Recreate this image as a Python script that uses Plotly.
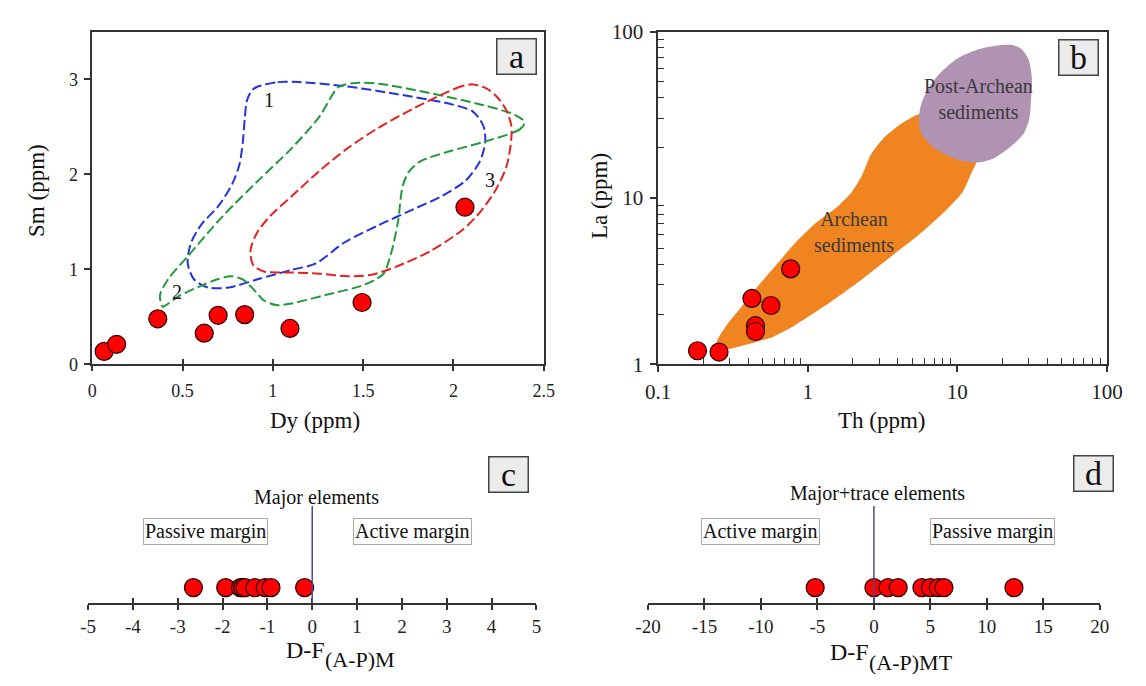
import plotly.graph_objects as go

# ---------------- data ----------------
# panel a: Dy vs Sm (ppm)
dy_ppm = [0.066, 0.135, 0.363, 0.62, 0.697, 0.844, 1.095, 1.494, 2.064]
sm_ppm = [0.135, 0.21, 0.478, 0.327, 0.515, 0.522, 0.377, 0.65, 1.653]

# panel a reference fields (dashed outlines)
field1_x = [0.911, 1.027, 1.143, 1.394, 1.683, 1.973, 2.108, 2.166, 2.176, 2.147, 2.069, 1.934,
            1.780, 1.587, 1.394, 1.239, 1.104, 0.911, 0.757, 0.641, 0.564, 0.529, 0.544, 0.602,
            0.699, 0.776, 0.815, 0.834, 0.844, 0.857, 0.882, 0.911]
field1_y = [2.919, 2.970, 2.970, 2.929, 2.845, 2.744, 2.660, 2.508, 2.340, 2.138, 1.936, 1.768,
            1.633, 1.465, 1.279, 1.061, 0.993, 0.892, 0.808, 0.808, 0.892, 1.061, 1.263, 1.465,
            1.667, 1.902, 2.104, 2.340, 2.576, 2.778, 2.879, 2.919]
field2_x = [2.394, 2.369, 2.166, 1.973, 1.819, 1.751, 1.718, 1.693, 1.654, 1.616, 1.568, 1.490,
            1.297, 1.104, 1.017, 0.950, 0.892, 0.834, 0.766, 0.689, 0.602, 0.486, 0.409, 0.390,
            0.375, 0.419, 0.525, 0.718, 0.911, 1.104, 1.259, 1.365, 1.471, 1.587, 1.876, 2.166,
            2.340, 2.394]
field2_y = [2.549, 2.475, 2.340, 2.239, 2.138, 2.020, 1.869, 1.498, 1.162, 0.960, 0.892, 0.825,
            0.731, 0.640, 0.623, 0.673, 0.791, 0.892, 0.926, 0.892, 0.825, 0.724, 0.623, 0.606,
            0.724, 0.892, 1.128, 1.549, 1.919, 2.273, 2.609, 2.919, 2.963, 2.953, 2.852, 2.727,
            2.626, 2.549]
field3_x = [2.108, 2.050, 1.934, 1.780, 1.587, 1.413, 1.259, 1.104, 0.988, 0.911, 0.876, 0.892,
            0.950, 1.104, 1.259, 1.413, 1.548, 1.683, 1.876, 2.050, 2.147, 2.234, 2.292, 2.317,
            2.321, 2.292, 2.243, 2.185, 2.108]
field3_y = [2.946, 2.929, 2.838, 2.694, 2.492, 2.273, 2.037, 1.768, 1.566, 1.380, 1.195, 1.044,
            0.976, 0.966, 0.953, 0.926, 0.943, 1.027, 1.195, 1.414, 1.599, 1.835, 2.071, 2.306,
            2.508, 2.677, 2.811, 2.902, 2.946]

# panel b: Th vs La (ppm)
th_ppm = [0.183, 0.255, 0.423, 0.567, 0.447, 0.447, 0.768]
la_ppm = [1.205, 1.184, 2.488, 2.256, 1.705, 1.574, 3.745]

archean_th = [0.2415, 0.248, 0.2848, 0.3549, 0.4676, 0.616, 0.811, 1.129, 1.570, 1.958, 2.31,
              2.652, 3.215, 4.236, 5.577, 8.2, 12.06, 13.46, 12.4, 10.8, 8.2, 5.577, 3.589, 2.31,
              1.331, 0.811, 0.583, 0.419, 0.2848, 0.248, 0.2415]
archean_la = [1.249, 1.396, 1.705, 2.177, 2.972, 3.968, 5.297, 7.07, 8.83, 10.79, 13.77,
              18.39, 22.96, 28.05, 32.06, 31.34, 21.97, 16.82, 14.08, 10.79, 8.26, 6.05, 4.434,
              3.249, 2.276, 1.705, 1.459, 1.335, 1.221, 1.21, 1.249]
post_th = [19.8, 14.22, 10.22, 7.76, 6.4, 5.733, 5.516, 5.733, 6.58, 8.2, 10.8, 13.84, 17.73,
           23.36, 27.86, 30.27, 31.1, 31.45, 29.93, 26.8, 23.36, 19.8]
post_la = [83.3, 79.0, 69.8, 57.1, 45.7, 36.6, 29.3, 24.55, 21.01, 18.39, 16.67, 16.38, 17.43,
           20.83, 24.55, 29.99, 39.15, 53.43, 68.2, 78.7, 83.3, 83.3]

# panel c / d: discriminant function scores
df_m = [-2.65, -1.93, -1.6, -1.55, -1.5, -1.28, -1.05, -0.92, -0.17]
df_mt = [-5.2, 0.0, 1.25, 2.15, 4.25, 5.0, 5.7, 6.2, 12.4]
strip_level = 0.0

a_ticks = [0, 0.5, 1, 1.5, 2, 2.5]
a_ticktext = ["0", "0.5", "1", "1.5", "2", "2.5"]
a_yticks = [0, 1, 2, 3]
b_ticks = [0.1, 1, 10, 100]
b_ticktext = ["0.1", "1", "10", "100"]
b_yticks = [1, 10, 100]
b_yticktext = ["1", "10", "100"]
b_minor_x = [0.2, 0.3, 0.4, 0.5, 0.6, 0.7, 0.8, 0.9, 2, 3, 4, 5, 6, 7, 8, 9,
             20, 30, 40, 50, 60, 70, 80, 90]
b_minor_y = [2, 3, 4, 5, 6, 7, 8, 9, 20, 30, 40, 50, 60, 70, 80, 90]
c_ticks = [-5, -4, -3, -2, -1, 0, 1, 2, 3, 4, 5]
c_ticktext = ["-5", "-4", "-3", "-2", "-1", "0", "1", "2", "3", "4", "5"]
d_ticks = [-20, -15, -10, -5, 0, 5, 10, 15, 20]
d_ticktext = ["-20", "-15", "-10", "-5", "0", "5", "10", "15", "20"]

# ---------------- style ----------------
W, H = 1146, 686
FONT = "Liberation Serif"
AX = "#333333"
RED = "#ff0000"
MK = dict(size=18, color=RED, line=dict(color="#2a0000", width=1.2))


def px(x):
    return x / W


def py(y):
    return 1 - y / H


fig = go.Figure()

# panel a
for fx, fy, col in [(field1_x, field1_y, "#2233dd"), (field2_x, field2_y, "#22993a"),
                    (field3_x, field3_y, "#e52222")]:
    fig.add_trace(go.Scatter(x=fx, y=fy, mode="lines", xaxis="x", yaxis="y",
                             line=dict(color=col, width=2, dash="10px,4px", shape="spline",
                                       smoothing=0.8),
                             hoverinfo="skip", showlegend=False))
fig.add_trace(go.Scatter(x=dy_ppm, y=sm_ppm, mode="markers", marker=MK, xaxis="x", yaxis="y",
                         showlegend=False, cliponaxis=False))

# panel b
fig.add_trace(go.Scatter(x=archean_th, y=archean_la, mode="lines", fill="toself",
                         fillcolor="#ef8420", line=dict(color="#ef8420", width=0, shape="spline",
                                                        smoothing=0.6),
                         xaxis="x2", yaxis="y2", hoverinfo="skip", showlegend=False))
fig.add_trace(go.Scatter(x=post_th, y=post_la, mode="lines", fill="toself",
                         fillcolor="#b092b3", line=dict(color="#b092b3", width=0, shape="spline",
                                                        smoothing=0.8),
                         xaxis="x2", yaxis="y2", hoverinfo="skip", showlegend=False))
fig.add_trace(go.Scatter(x=th_ppm, y=la_ppm, mode="markers", marker=MK, xaxis="x2", yaxis="y2",
                         showlegend=False, cliponaxis=False))

# panel c
fig.add_trace(go.Scatter(x=df_m, y=[strip_level] * len(df_m), mode="markers", marker=MK,
                         xaxis="x3", yaxis="y3", showlegend=False, cliponaxis=False))
# panel d
fig.add_trace(go.Scatter(x=df_mt, y=[strip_level] * len(df_mt), mode="markers", marker=MK,
                         xaxis="x4", yaxis="y4", showlegend=False, cliponaxis=False))

# empty carrier traces so the overlay tick axes get drawn
for xa, ya in [("x5", "y3"), ("x6", "y4"), ("x7", "y"), ("x8", "y2"), ("x2", "y5")]:
    fig.add_trace(go.Scatter(x=[], y=[], mode="markers", xaxis=xa, yaxis=ya,
                             showlegend=False, hoverinfo="skip"))

tickfont_a = dict(family=FONT, size=18, color="#222")
tickfont_b = dict(family=FONT, size=21, color="#222")
tickfont_c = dict(family=FONT, size=19, color="#222")

dom_a_x = [px(81.3), px(544.5)]
dom_b_x = [px(662), px(1122.3)]
dom_top_y = [py(365), py(20.5)]
dom_c_x = [px(77), px(537)]
dom_d_x = [px(651.5), px(1115)]
dom_bot_y = [py(612.5), py(412.5)]

common = dict(showgrid=False, zeroline=False, tickcolor=AX, tickwidth=1.5)
overlay = dict(showticklabels=False, showline=False, showgrid=False, zeroline=False,
               tickcolor=AX)

fig.update_layout(
    width=W, height=H, margin=dict(l=0, r=0, t=0, b=0),
    paper_bgcolor="white", plot_bgcolor="rgba(0,0,0,0)",
    font=dict(family=FONT, color="#222"),
    xaxis=dict(domain=dom_a_x, anchor="y", range=[0, 2.5], tickvals=a_ticks,
               ticktext=a_ticktext, ticks="outside", ticklen=5, ticklabelstandoff=4,
               showline=True, linecolor=AX, linewidth=1.5, mirror=True,
               tickfont=tickfont_a, **common),
    yaxis=dict(domain=dom_top_y, anchor="x", range=[0, 3.5], tickvals=a_yticks,
               ticks="outside", ticklen=6, ticklabelstandoff=3, showline=True,
               linecolor=AX, linewidth=1.5, mirror=True, tickfont=tickfont_a, **common),
    xaxis2=dict(domain=dom_b_x, anchor="y2", type="log", range=[-1, 2], tickvals=b_ticks,
                ticktext=b_ticktext, ticks="outside", ticklen=6, ticklabelstandoff=2,
                showline=True, linecolor=AX, linewidth=1.5, mirror=True,
                tickfont=tickfont_b, **common),
    yaxis2=dict(domain=dom_top_y, anchor="x2", type="log", range=[0, 2], tickvals=b_yticks,
                ticktext=b_yticktext, ticks="outside", ticklen=6, ticklabelstandoff=3,
                showline=True, linecolor=AX, linewidth=1.5, mirror=True,
                tickfont=tickfont_b, **common),
    xaxis3=dict(domain=dom_c_x, anchor="y3", range=[-5, 5], tickvals=c_ticks,
                ticktext=c_ticktext, ticks="outside", ticklen=5, showline=True, linecolor=AX,
                linewidth=1.5, tickfont=tickfont_c, **common),
    yaxis3=dict(domain=dom_bot_y, anchor="x3", range=[-0.08, 0.92], visible=False),
    xaxis4=dict(domain=dom_d_x, anchor="y4", range=[-20, 20], tickvals=d_ticks,
                ticktext=d_ticktext, ticks="outside", ticklen=5, showline=True, linecolor=AX,
                linewidth=1.5, tickfont=tickfont_c, **common),
    yaxis4=dict(domain=dom_bot_y, anchor="x4", range=[-0.08, 0.92], visible=False),
    # overlay axes for crossing ticks / minor ticks
    xaxis5=dict(overlaying="x3", anchor="y3", side="bottom", range=[-5, 5], tickvals=c_ticks,
                ticks="inside", ticklen=5, tickwidth=1.5, **overlay),
    xaxis6=dict(overlaying="x4", anchor="y4", side="bottom", range=[-20, 20], tickvals=d_ticks,
                ticks="inside", ticklen=5, tickwidth=1.5, **overlay),
    xaxis7=dict(overlaying="x", anchor="y", side="bottom", range=[0, 2.5], tickvals=a_ticks,
                ticks="inside", ticklen=5, tickwidth=1.5, **overlay),
    xaxis8=dict(overlaying="x2", anchor="y2", side="bottom", type="log", range=[-1, 2],
                tickvals=b_minor_x, ticks="inside", ticklen=6, tickwidth=1.3, **overlay),
    yaxis5=dict(overlaying="y2", anchor="x2", side="left", type="log", range=[0, 2],
                tickvals=b_minor_y, ticks="inside", ticklen=6, tickwidth=1.3, **overlay),
)

# divider lines at zero
fig.add_shape(type="line", xref="x3", yref="y3", x0=0, x1=0, y0=-0.08, y1=0.4225,
              line=dict(color="#4b4b8f", width=1.5))
fig.add_shape(type="line", xref="x4", yref="y4", x0=0, x1=0, y0=-0.08, y1=0.4225,
              line=dict(color="#4b4b8f", width=1.5))

ann = []


def label_box(text, xref, yref, x, y):
    ann.append(dict(text=text, xref=xref, yref=yref, x=x, y=y, showarrow=False,
                    xanchor="center", yanchor="middle",
                    font=dict(family=FONT, size=34, color="#111"), bgcolor="#ececec",
                    bordercolor="#444", borderwidth=1.5, width=38, height=34, borderpad=0,
                    valign="middle"))


def region_box(text, xref, yref, x, y):
    ann.append(dict(text=text, xref=xref, yref=yref, x=x, y=y, showarrow=False,
                    xanchor="center", yanchor="middle",
                    font=dict(family=FONT, size=20, color="#111"), bgcolor="white",
                    bordercolor="#aaaaaa", borderwidth=1, borderpad=1))


def txt(text, xref, yref, x, y, size=20, color="#111", angle=0, xanchor="center"):
    ann.append(dict(text=text, xref=xref, yref=yref, x=x, y=y, showarrow=False,
                    xanchor=xanchor, yanchor="middle",
                    font=dict(family=FONT, size=size, color=color), textangle=angle))


label_box("a", "x", "y", 2.352, 3.236)
label_box("b", "x2", "y2", 1.809, 1.846)
label_box("c", "x3", "y3", 4.37, 0.5875)
label_box("d", "x4", "y4", 19.4, 0.5925)

txt("1", "x", "y", 0.979, 2.78)
txt("2", "x", "y", 0.467, 0.758)
txt("3", "x", "y", 2.2, 1.94)

txt("Post-Archean<br>sediments", "x2", "y2", 1.144, 1.594, color="#3a3a3a")
txt("Archean<br>sediments", "x2", "y2", 0.310, 0.794, color="#3a3a3a")

txt("Major elements", "x3", "y3", 0.1, 0.469)
region_box("Passive margin", "x3", "y3", -2.37, 0.2925)
region_box("Active margin", "x3", "y3", 2.24, 0.2925)

txt("Major+trace elements", "x4", "y4", 0.35, 0.4875)
region_box("Active margin", "x4", "y4", -10.05, 0.2925)
region_box("Passive margin", "x4", "y4", 10.48, 0.2925)

# axis titles
txt("Dy (ppm)", "paper", "paper", px(310), py(423), size=23)
txt("Sm (ppm)", "paper", "paper", px(24), py(185), size=23, angle=-90)
txt("Th (ppm)", "paper", "paper", px(892), py(423), size=23)
txt("La (ppm)", "paper", "paper", px(602), py(191), size=23, angle=-90)
txt("D-F", "paper", "paper", px(322), py(661), size=24, xanchor="right")
txt("(A-P)M", "paper", "paper", px(318), py(671), size=22, xanchor="left")
txt("D-F", "paper", "paper", px(880), py(663), size=24, xanchor="right")
txt("(A-P)MT", "paper", "paper", px(876), py(674), size=22, xanchor="left")

fig.update_layout(annotations=ann)

fig.write_html("out.html")
